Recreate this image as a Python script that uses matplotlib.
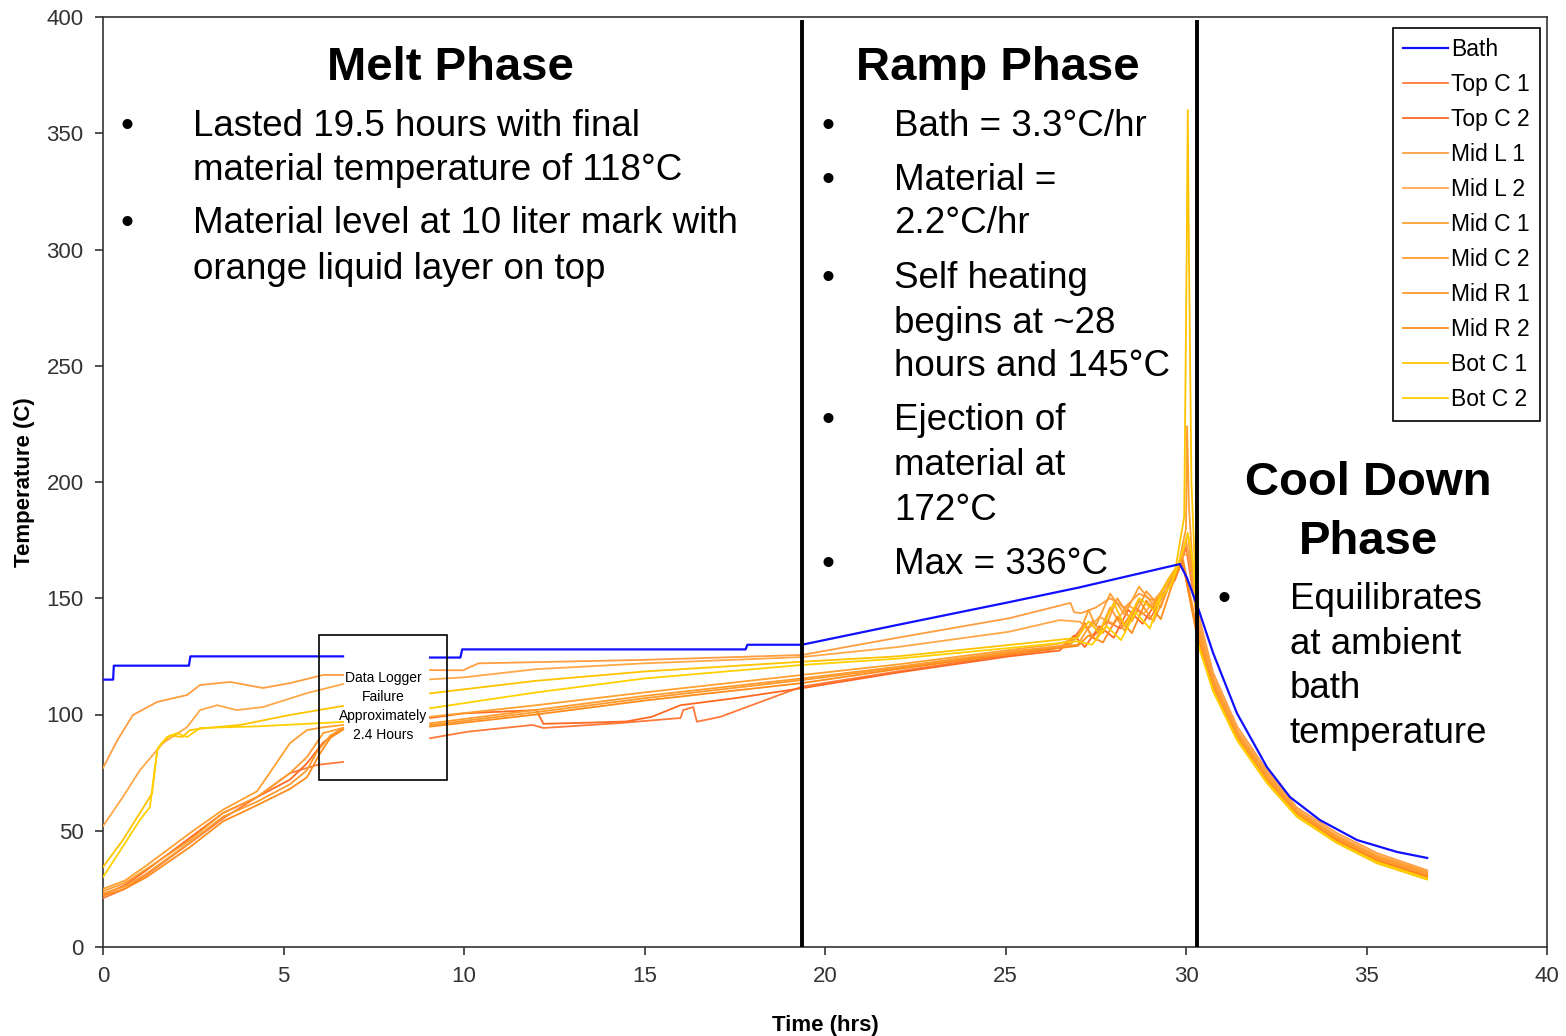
import numpy as np
import matplotlib
matplotlib.use("Agg")
import matplotlib.pyplot as plt
from matplotlib.patches import Rectangle

plt.rcParams['font.family'] = ['Liberation Sans', 'DejaVu Sans']

nan = np.nan

# ---- data (time in hrs, temperature in C) ----
bath_t = [0, 0.28, 0.3, 2.38, 2.42, 6.65, 7.8, 9.06, 9.9, 9.95, 17.8, 17.85, 19.36, 22.0, 25.0, 27.0,
          29.83, 30.02, 30.33, 30.75, 31.41, 32.24, 32.88, 33.71, 34.74, 35.84, 36.68]
bath_T = [115, 115, 121, 121, 125, 125, nan, 124.5, 124.5, 128, 128, 130, 130, 138.5, 148, 154.5,
          164.7, 159, 146, 126.5, 100.6, 77.4, 64.5, 54.6, 46, 40.9, 38.3]

top_c1_t = [0, 0.6, 1.2, 2.41, 3.3, 4.27, 5.18, 5.93, 6.65, 7.8, 9.06, 10.1, 11.9, 12.2, 14.3, 16.0,
            16.07, 16.35, 16.45, 17.1, 19.36, 22.0, 25.1, 26.3, 26.8, 27.2, 27.4, 27.8, 28.2, 28.6,
            29.0, 29.4, 29.7, 30.0, 30.33, 30.75, 31.41, 32.24, 33.07, 34.18, 35.29, 36.68]
top_c1_T = [21, 25, 31, 44.7, 55, 64.5, 74.8, 78.3, 79.6, nan, 89.8, 92.6, 95.5, 94.2, 96.3, 98.5,
            101.9, 103.2, 96.9, 99, 112, 118.5, 125.6, 128, 131, 139.3, 133, 140, 137, 146,
            141, 152, 158, 172, 139, 116, 93, 74.5, 59, 47.5, 39, 32]

top_c2_t = [0, 0.6, 1.2, 2.41, 3.32, 4.27, 5.18, 5.65, 6.1, 6.65, 7.8, 9.06, 10.0, 12.0, 12.2, 13.5,
            14.5, 15.2, 16.0, 17.5, 19.36, 22.0, 25.1, 26.5, 26.9, 27.2, 27.6, 28.0, 28.4, 28.8,
            29.2, 29.6, 29.9, 30.33, 30.75, 31.41, 32.24, 33.07, 34.18, 35.29, 36.68]
top_c2_T = [22.5, 26.5, 33, 47, 57.6, 64.5, 72, 79, 88, 94.2, nan, 98.5, 100.5, 101.9, 96, 96.5,
            97, 99, 104, 107, 111.3, 118, 125, 127.5, 134, 129, 138, 133, 145, 139,
            149, 156, 166, 133, 112, 90.5, 72, 57.5, 46, 37.5, 30.5]

mid_l1_t = [0, 0.4, 0.83, 1.5, 2.33, 2.69, 3.52, 4.43, 5.18, 6.1, 6.65, 7.8, 9.06, 9.97, 10.4, 15.0,
            19.36, 22.0, 25.1, 26.8, 26.9, 27.1, 27.5, 27.9, 28.3, 28.7, 29.1, 29.5, 29.8, 30.0,
            30.15, 30.33, 30.75, 31.41, 32.24, 33.07, 34.18, 35.29, 36.68]
mid_l1_T = [77, 89, 99.8, 105.4, 108.4, 112.7, 114, 111.4, 113.5, 117, 117, nan, 119.1, 119, 122, 123.5,
            125.6, 133, 141.4, 148, 144, 143.6, 146, 150, 146, 152, 149, 156, 163, 175,
            160, 144, 118, 95, 76, 60, 49, 40.4, 33]

mid_l2_t = [0, 0.55, 1.02, 1.66, 2.33, 2.69, 3.16, 3.71, 4.43, 5.65, 6.65, 7.8, 9.06, 10.0, 12.0, 15.0,
            19.36, 22.0, 25.1, 26.5, 27.06, 27.3, 27.6, 28.0, 28.4, 28.8, 29.2, 29.6, 29.9, 30.1,
            30.33, 30.75, 31.41, 32.24, 33.07, 34.18, 35.29, 36.68]
mid_l2_T = [52, 64.5, 76, 87.7, 94.6, 101.9, 104, 101.9, 103.2, 109.2, 113.1, nan, 115.1, 116, 119.5, 122,
            124.7, 129, 135.6, 140.6, 139.9, 137, 142, 139, 147, 143, 150, 158, 168, 170,
            142, 116, 93.5, 75, 59, 48, 39.5, 32.5]

mid_c1_t = [0, 0.6, 1.2, 2.41, 3.32, 4.27, 5.18, 5.65, 6.1, 6.65, 7.8, 9.06, 12.0, 15.0, 19.36, 22.0,
            25.1, 26.5, 27.0, 27.3, 27.5, 27.9, 28.3, 28.7, 29.1, 29.5, 29.8, 30.0, 30.03, 30.08,
            30.2, 30.33, 30.75, 31.41, 32.24, 33.07, 34.18, 35.29, 36.68]
mid_c1_T = [25, 28.5, 35, 49, 59, 67, 87.7, 93.3, 94.5, 95.5, nan, 99, 104, 109.5, 117, 121.5,
            127.7, 130.5, 133, 145, 138, 152, 143, 155, 147, 158, 165, 180, 224, 190,
            160, 138, 115, 92.5, 74, 58.5, 47.5, 39, 32]

mid_c2_t = [0, 0.6, 1.2, 2.41, 3.32, 4.27, 5.18, 5.65, 6.1, 6.65, 7.8, 9.06, 12.0, 15.0, 19.36, 22.0,
            25.1, 26.8, 27.2, 27.5, 27.9, 28.3, 28.7, 29.1, 29.5, 29.8, 30.05, 30.33, 30.75, 31.41,
            32.24, 33.07, 34.18, 35.29, 36.68]
mid_c2_T = [24, 27.5, 33.5, 46, 57.6, 64.5, 74.8, 81.7, 92, 94.2, nan, 96.2, 102, 108, 115.5, 120.5,
            127, 130, 138, 132, 146, 136, 149, 140, 154, 162, 178, 136, 114, 91.5,
            73, 58, 47, 38.5, 31.5]

mid_r1_t = [0, 0.6, 1.2, 2.41, 3.32, 4.27, 5.18, 5.65, 5.93, 6.3, 6.65, 7.8, 9.06, 12.0, 15.0, 19.36,
            22.0, 25.1, 27.0, 27.4, 27.7, 28.1, 28.5, 28.9, 29.3, 29.6, 29.9, 30.33, 30.75, 31.41,
            32.24, 33.07, 34.18, 35.29, 36.68]
mid_r1_T = [23, 26, 31.5, 45, 56, 62.5, 70, 76, 84, 91, 94, nan, 95.5, 101, 107, 114.8,
            120, 126.5, 130, 140, 135, 150, 140, 153, 146, 159, 168, 135, 113, 91,
            72.5, 57.5, 46.5, 38, 31]

mid_r2_t = [0, 0.6, 1.2, 2.41, 3.32, 4.27, 5.18, 5.65, 6.0, 6.3, 6.65, 7.8, 9.06, 12.0, 15.0, 19.36,
            22.0, 25.1, 27.0, 27.3, 27.7, 28.1, 28.5, 28.9, 29.3, 29.6, 29.9, 30.33, 30.75, 31.41,
            32.24, 33.07, 34.18, 35.29, 36.68]
mid_r2_T = [22, 25, 30, 43, 54, 61, 68, 73, 83, 90, 93.5, nan, 94.8, 100, 106, 113.5,
            119.5, 126, 129.5, 134, 131, 142, 135, 149, 141, 155, 166, 132, 111, 90,
            71.5, 57, 45.5, 37, 30]

bot_c1_t = [0, 0.55, 1.02, 1.36, 1.5, 1.63, 1.86, 2.2, 2.41, 2.88, 3.8, 5.18, 6.65, 7.8, 9.06, 12.0,
            15.0, 19.36, 22.0, 25.1, 27.0, 27.3, 27.6, 28.0, 28.3, 28.7, 29.1, 29.4, 29.7, 29.95,
            30.02, 30.05, 30.08, 30.15, 30.33, 30.75, 31.41, 32.24, 33.07, 34.18, 35.29, 36.68]
bot_c1_T = [34.4, 46, 57.6, 66, 84.7, 87.7, 91, 90.3, 93.3, 94.2, 95.5, 99.8, 103.7, nan, 109.1, 114.5,
            118.5, 122.7, 125, 129.9, 133, 140, 135, 148, 138, 150, 145, 155, 162, 185,
            300, 360, 300, 200, 131, 110, 89, 70.5, 56, 44.7, 36, 29]

bot_c2_t = [0, 0.5, 1.02, 1.3, 1.44, 1.52, 1.77, 2.05, 2.33, 2.69, 4.27, 6.65, 7.8, 9.06, 12.0, 15.0,
            19.36, 22.0, 25.1, 27.0, 27.4, 27.8, 28.2, 28.6, 29.0, 29.3, 29.6, 29.9, 30.05, 30.2,
            30.33, 30.75, 31.41, 32.24, 33.07, 34.18, 35.29, 36.68]
bot_c2_T = [30.1, 42, 54.6, 60.2, 77.4, 85.6, 90.3, 92, 90.3, 94.2, 94.9, 96.8, nan, 102.7, 109.5, 115.5,
            121.3, 124, 128.6, 131.5, 130, 138, 132, 144, 137, 150, 156, 170, 178, 165,
            130, 110.5, 89.5, 71, 56.5, 45, 36.5, 29.5]

series_names = ['Top C 1', 'Top C 2', 'Mid L 1', 'Mid L 2', 'Mid C 1', 'Mid C 2',
                'Mid R 1', 'Mid R 2', 'Bot C 1', 'Bot C 2']
series_t = [top_c1_t, top_c2_t, mid_l1_t, mid_l2_t, mid_c1_t, mid_c2_t, mid_r1_t, mid_r2_t, bot_c1_t, bot_c2_t]
series_T = [top_c1_T, top_c2_T, mid_l1_T, mid_l2_T, mid_c1_T, mid_c2_T, mid_r1_T, mid_r2_T, bot_c1_T, bot_c2_T]
series_colors = ['#FF7A3A', '#FF6A22', '#FF9E40', '#FFA848', '#FFA030', '#FF9C30',
                 '#FF9A2E', '#FF8C1A', '#FFC400', '#FFD000']

phase_bounds = [19.36, 30.3]

W, H = 1566, 1036
fig = plt.figure(figsize=(W / 100, H / 100), dpi=100)
ax = fig.add_axes([103 / W, 1 - 947 / H, 1444 / W, 930 / H])

ax.plot(bath_t, bath_T, color='#1010FF', lw=1.6, label='Bath', zorder=4)
for t, T, c, name in zip(series_t, series_T, series_colors, series_names):
    ax.plot(t, T, color=c, lw=1.3, label=name, zorder=3)

for xb in phase_bounds:
    ax.axvline(xb, ymin=0, ymax=0.995, color='black', lw=2.8, zorder=5)

# data logger failure box
ax.add_patch(Rectangle((5.98, 71.8), 3.55, 62.4, fill=False, edgecolor='black', lw=1.2, zorder=6))
ax.text(7.76, 103.5, 'Data Logger\nFailure\nApproximately\n2.4 Hours', ha='center', va='center',
        fontsize=10, linespacing=1.45, zorder=7)

ax.set_xlim(0, 40)
ax.set_ylim(0, 400)
ax.set_xticks(range(0, 41, 5))
ax.set_yticks(range(0, 401, 50))
ax.tick_params(labelsize=16, length=6, width=1.2, colors='#333333', pad=8)
for sp in ax.spines.values():
    sp.set_linewidth(1.2)
    sp.set_color('#333333')
ax.set_xlabel('Time (hrs)', fontsize=16, fontweight='bold', labelpad=20)
ax.set_ylabel('Temperature (C)', fontsize=16, fontweight='bold', labelpad=8)

leg = ax.legend(loc='upper right', bbox_to_anchor=(0.9952, 0.988), borderaxespad=0,
                fontsize=16.5, handlelength=1.95, handletextpad=0.15, labelspacing=0.52,
                borderpad=0.45, fancybox=False, framealpha=1, edgecolor='black')
leg.get_frame().set_linewidth(1.2)


def put(x, y, s, **kw):
    fig.text(x / W, 1 - y / H, s, **kw)


# phase headings
put(450, 80, 'Melt Phase', fontsize=34, fontweight='bold', ha='center', va='baseline')
put(998, 80, 'Ramp Phase', fontsize=34, fontweight='bold', ha='center', va='baseline')
put(1368, 495, 'Cool Down', fontsize=34, fontweight='bold', ha='center', va='baseline')
put(1368, 554, 'Phase', fontsize=34, fontweight='bold', ha='center', va='baseline')

# bullet text
melt_lines = [(136, True, 'Lasted 19.5 hours with final'), (180, False, 'material temperature of 118°C'),
              (233, True, 'Material level at 10 liter mark with'), (279, False, 'orange liquid layer on top')]
ramp_lines = [(136, True, 'Bath = 3.3°C/hr'), (190, True, 'Material ='), (233, False, '2.2°C/hr'),
              (288, True, 'Self heating'), (333, False, 'begins at ~28'), (376, False, 'hours and 145°C'),
              (430, True, 'Ejection of'), (475, False, 'material at'), (520, False, '172°C'),
              (574, True, 'Max = 336°C')]
cool_lines = [(609, True, 'Equilibrates'), (654, False, 'at ambient'), (698, False, 'bath'),
              (743, False, 'temperature')]

for bx, tx, lines in [(127, 193, melt_lines), (828, 894, ramp_lines), (1224, 1290, cool_lines)]:
    for y, bullet, s in lines:
        if bullet:
            put(bx, y, '•', fontsize=26.5, ha='center', va='baseline')
        put(tx, y, s, fontsize=26.5, ha='left', va='baseline')

fig.savefig('out.png', dpi=100, facecolor='white')
